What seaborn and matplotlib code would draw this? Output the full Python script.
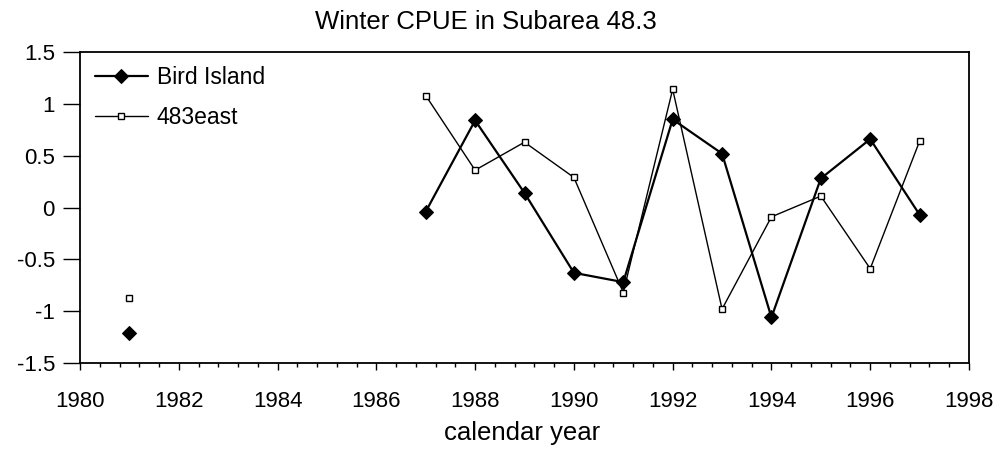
import numpy as np
import pandas as pd
import matplotlib
matplotlib.use("Agg")
import matplotlib.pyplot as plt
from matplotlib.ticker import MultipleLocator, FormatStrFormatter
import seaborn as sns

# years and CPUE index values (NaN = no value that year)
years = list(range(1981, 1998))
bird_island = [-1.21, np.nan, np.nan, np.nan, np.nan, np.nan,
               -0.04, 0.84, 0.14, -0.63, -0.72, 0.85, 0.52, -1.06, 0.28, 0.66, -0.07]
east_483 = [-0.87, np.nan, np.nan, np.nan, np.nan, np.nan,
            1.08, 0.36, 0.63, 0.29, -0.82, 1.14, -0.98, -0.09, 0.11, -0.59, 0.64]
series_names = ["Bird Island", "483east"]

sns.set_style("white")
plt.rcParams["font.family"] = ["Liberation Sans", "DejaVu Sans"]
plt.rcParams["axes.unicode_minus"] = False
plt.rcParams["text.color"] = "black"
plt.rcParams["xtick.color"] = "black"
plt.rcParams["ytick.color"] = "black"
plt.rcParams["axes.labelcolor"] = "black"


def to_long(name, values):
    df = pd.DataFrame({"year": years, "value": values})
    # new segment after every gap so the line breaks there
    df["segment"] = df["value"].isna().cumsum()
    df["series"] = name
    return df.dropna()


df = pd.concat([to_long(series_names[0], bird_island),
                to_long(series_names[1], east_483)])

fig = plt.figure(figsize=(10.04, 4.54), dpi=100)
ax = fig.add_axes([80 / 1004, 1 - 363 / 454, 889 / 1004, 311 / 454])

styles = {
    "Bird Island": dict(marker="D", markersize=7, linewidth=1.6,
                        markerfacecolor="black", markeredgecolor="black"),
    "483east": dict(marker="s", markersize=5, linewidth=1.0,
                    markerfacecolor="white", markeredgecolor="black",
                    markeredgewidth=1.0),
}
for name in series_names:
    sub = df[df["series"] == name]
    sns.lineplot(data=sub, x="year", y="value", units="segment", estimator=None,
                 color="black", label=name, ax=ax, **styles[name])

ax.set_xlim(1980, 1998)
ax.set_ylim(-1.5, 1.5)
ax.xaxis.set_major_locator(MultipleLocator(2))
ax.xaxis.set_minor_locator(MultipleLocator(0.4))
ax.yaxis.set_major_locator(MultipleLocator(0.5))
ax.yaxis.set_major_formatter(FormatStrFormatter("%g"))
ax.tick_params(axis="x", which="major", direction="out", length=5, width=1,
               pad=15, labelsize=16, bottom=True)
ax.tick_params(axis="x", which="minor", direction="out", length=3, width=1, bottom=True)
ax.tick_params(axis="y", which="major", direction="out", length=12, width=1,
               pad=6, labelsize=16, left=True)
for s in ax.spines.values():
    s.set_color("black")
    s.set_linewidth(1.3)
ax.set_xlabel("")
ax.set_ylabel("")

# one legend entry per series
handles, labels = ax.get_legend_handles_labels()
seen = {}
for h, l in zip(handles, labels):
    seen.setdefault(l, h)
ax.legend(seen.values(), seen.keys(), loc="upper left", bbox_to_anchor=(0.017, 0.955),
          frameon=False, borderpad=0, borderaxespad=0, fontsize=16.5,
          handlelength=2.3, handletextpad=0.4, labelspacing=0.75)

fig.text(486 / 1004, 1 - 22 / 454, "Winter CPUE in Subarea 48.3",
         ha="center", va="center", fontsize=18.5)
fig.text(522 / 1004, 1 - 433 / 454, "calendar year",
         ha="center", va="center", fontsize=18.5)

plt.savefig("out.png", dpi=100)
